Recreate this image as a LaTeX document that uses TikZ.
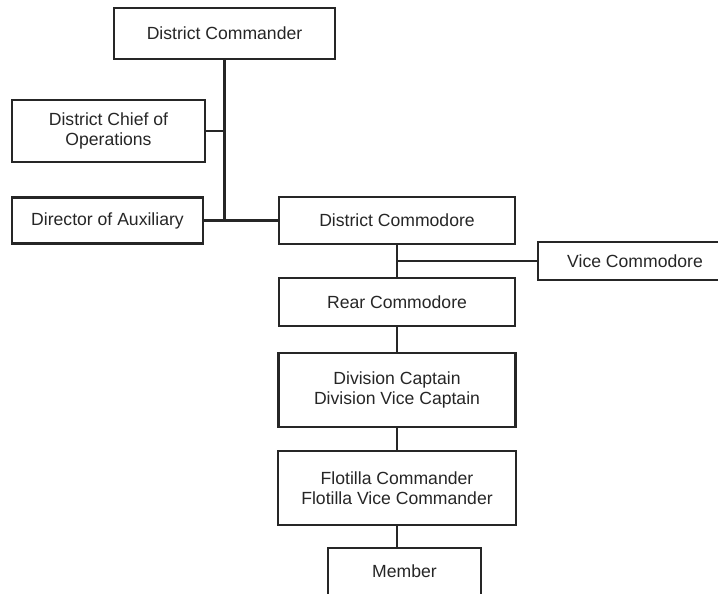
\documentclass[tikz,border=0pt]{standalone}
\usepackage{fontspec}
\setmainfont{Liberation Sans}
\definecolor{ink}{HTML}{262626}
\begin{document}
\begin{tikzpicture}[x=0.75pt,y=-0.75pt,font=\fontsize{13.2}{15}\selectfont, line width=1.5pt]
    \tikzstyle{post}=[draw=ink,text=ink,rectangle,align=center,inner sep=0,line width=1.6pt]
    \tikzstyle{link}=[draw=ink,line width=1.6pt]

    \clip (0,0) rectangle (718,593);

    \node(cmdr)[post,minimum width=165.75pt,minimum height=38.25pt] at (224.5,33.5) {District Commander};
    \node(chief)[post,minimum width=144.75pt,minimum height=46.5pt] at (108.5,131) {District Chief of\\Operations};
    \node(aux)[post,minimum width=143.25pt,minimum height=34.5pt] at (107.5,220.5) {Director of Auxiliary};
    \node(cdre)[post,minimum width=177pt,minimum height=35.25pt] at (397,220.5) {District Commodore};
    \node(vice)[post,minimum width=145.5pt,minimum height=28.5pt] at (635,261) {Vice Commodore};
    \node(rear)[post,minimum width=177pt,minimum height=36pt] at (397,302) {Rear Commodore};
    \node(div)[post,minimum width=177.75pt,minimum height=55.5pt] at (397,390) {Division Captain\\Division Vice Captain};
    \node(flot)[post,minimum width=178.5pt,minimum height=55.5pt] at (397,488) {Flotilla Commander\\Flotilla Vice Commander};
    \node(mbr)[post,minimum width=114.75pt,minimum height=35.25pt] at (404.5,571.5) {Member};

    \coordinate (trunk) at (cmdr.south |- aux.east);
    \coordinate (split) at (cdre.south |- vice.west);

    \draw[link] (cmdr.south) -- (trunk);
    \draw[link] (chief.east) -- (chief.east -| trunk);
    \draw[link] (aux.east) -- (cdre.west);
    \draw[link] (cdre.south) -- (rear.north);
    \draw[link] (split) -- (vice.west);
    \draw[link] (rear.south) -- (div.north);
    \draw[link] (div.south) -- (flot.north);
    \draw[link] (flot.south) -- (flot.south |- mbr.north);
\end{tikzpicture}
\end{document}
